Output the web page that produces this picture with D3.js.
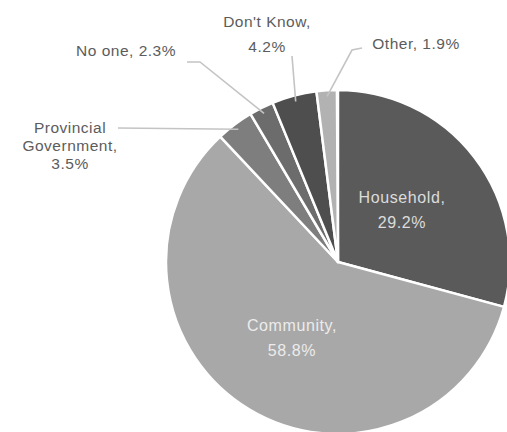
<!DOCTYPE html>
<html>
<head>
<meta charset="utf-8">
<script src="https://cdn.jsdelivr.net/npm/d3@7"></script>
<style>
  html, body { margin: 0; padding: 0; background: #fff; }
  svg { display: block; }
  text { font-family: "Liberation Sans", Arial, sans-serif; }
</style>
</head>
<body>
<svg id="chart" width="507" height="432"></svg>
<script>
// Data
const categories = ["Household", "Community", "Provincial Government", "No one", "Don't Know", "Other"];
const values = [29.2, 58.8, 3.5, 2.3, 4.2, 1.9];
const valueLabels = ["29.2%", "58.8%", "3.5%", "2.3%", "4.2%", "1.9%"];
const colors = ["#5a5a5a", "#a8a8a8", "#7e7e7e", "#6c6c6c", "#4e4e4e", "#b2b2b2"];

// Layout
const W = 507, H = 432;
const cx = 338, cy = 262, R = 172;
const svg = d3.select("#chart");
const g = svg.append("g").attr("transform", `translate(${cx},${cy})`);

const total = d3.sum(values);
const pie = d3.pie().sort(null).value(d => d).startAngle(0).endAngle(2 * Math.PI * total / 100);
const arcs = pie(values);
const arc = d3.arc().innerRadius(0).outerRadius(R);

g.selectAll("path.slice")
  .data(arcs)
  .join("path")
  .attr("class", "slice")
  .attr("d", arc)
  .attr("fill", (d, i) => colors[i])
  .attr("stroke", "#ffffff")
  .attr("stroke-width", 2.5)
  .attr("stroke-linejoin", "round");

function pt(a, r) { return [cx + r * Math.sin(a), cy - r * Math.cos(a)]; }
function mid(d) { return (d.startAngle + d.endAngle) / 2; }

// inside labels
const insideLabels = [
  { i: 0, x: 402, y: 203, color: "#dcdcdc" },
  { i: 1, x: 292, y: 331, color: "#ececec" }
];
insideLabels.forEach(l => {
  const t = svg.append("text").attr("text-anchor", "middle").attr("fill", l.color)
    .attr("font-size", 16).attr("letter-spacing", 0.6);
  t.append("tspan").attr("x", l.x).attr("y", l.y).text(categories[l.i] + ",");
  t.append("tspan").attr("x", l.x).attr("dy", 25).text(valueLabels[l.i]);
});

// outside labels with leader lines
const lineColor = "#c4c4c4";
const textColor = "#5c5c5c";
const outside = [
  { i: 2, lines: ["Provincial", "Government,", "3.5%"], x: 70, y: 133, dy: 18, path: [[118, 128]] },
  { i: 3, lines: ["No one, 2.3%"], x: 126, y: 56, dy: 18, path: [[200, 62], [187, 62]] },
  { i: 4, lines: ["Don't Know,", "4.2%"], x: 267, y: 27, dy: 25, path: [[292, 56]] },
  { i: 5, lines: ["Other, 1.9%"], x: 416, y: 49, dy: 18, path: [[352, 50], [362, 48]] }
];
outside.forEach(o => {
  const d = arcs[o.i];
  const start = pt(mid(d), R - 6);
  const pts = [start, ...o.path];
  svg.append("path")
    .attr("d", d3.line()(pts))
    .attr("fill", "none")
    .attr("stroke", lineColor)
    .attr("stroke-width", 1.6);
  const t = svg.append("text").attr("text-anchor", "middle").attr("fill", textColor)
    .attr("font-size", 15.5).attr("letter-spacing", 0.5);
  o.lines.forEach((s, k) => {
    t.append("tspan").attr("x", o.x).attr("y", o.y + k * o.dy).text(s);
  });
});
</script>
</body>
</html>
